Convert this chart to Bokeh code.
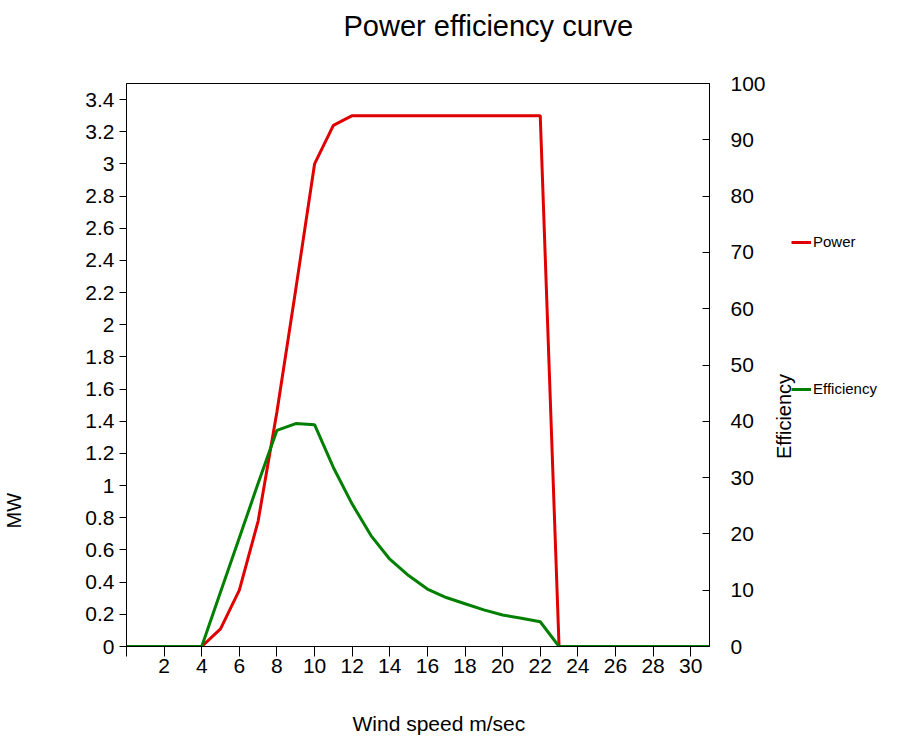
from bokeh.plotting import figure
from bokeh.layouts import row
from bokeh.models import (Range1d, LinearAxis, FixedTicker, Legend, LegendItem,
                          Title, Label)
from bokeh.embed import file_html
from bokeh.resources import INLINE

FONT = "Liberation Sans"

# Wind speed (m/sec), turbine power (MW) and efficiency (%)
wind_speed = list(range(0, 32))
power_mw = [0, 0, 0, 0, 0, 0.11, 0.35, 0.78, 1.46, 2.22, 3.0, 3.24,
            3.3, 3.3, 3.3, 3.3, 3.3, 3.3, 3.3, 3.3, 3.3, 3.3, 3.3,
            0, 0, 0, 0, 0, 0, 0, 0, 0]
efficiency = [0, 0, 0, 0, 0, 9.7, 19.3, 29.0, 38.4, 39.6, 39.4, 31.8,
              25.3, 19.7, 15.5, 12.6, 10.2, 8.7, 7.6, 6.5, 5.6, 5.0, 4.4,
              0, 0, 0, 0, 0, 0, 0, 0, 0]

# Tick positions and labels
x_ticks = list(range(0, 31, 2))
x_tick_labels = [""] + [str(v) for v in range(2, 31, 2)]
mw_ticks = [0, 0.2, 0.4, 0.6, 0.8, 1, 1.2, 1.4, 1.6, 1.8, 2, 2.2, 2.4,
            2.6, 2.8, 3, 3.2, 3.4]
mw_tick_labels = ["0", "0.2", "0.4", "0.6", "0.8", "1", "1.2", "1.4", "1.6",
                  "1.8", "2", "2.2", "2.4", "2.6", "2.8", "3", "3.2", "3.4"]
eff_ticks = list(range(0, 101, 10))

LINE_COLORS = {"Power": "#E00000", "Efficiency": "#007F00"}

# ---- main chart -----------------------------------------------------------
p = figure(width=770, height=750, output_backend="svg", toolbar_location=None,
           x_range=Range1d(0, 31), y_range=Range1d(0, 3.5),
           min_border_left=126, min_border_right=61,
           min_border_top=83, min_border_bottom=104)
p.extra_y_ranges = {"eff": Range1d(0, 100)}

p.xgrid.visible = False
p.ygrid.visible = False
p.outline_line_color = "black"
p.outline_line_width = 1
p.background_fill_color = "white"
p.border_fill_color = "white"


def style_axis(ax):
    ax.axis_line_color = "black"
    ax.major_tick_line_color = "black"
    ax.minor_tick_line_color = None
    ax.major_label_text_font = FONT
    ax.major_label_text_font_size = "21px"
    ax.major_label_text_color = "black"


xa = p.xaxis[0]
style_axis(xa)
xa.ticker = FixedTicker(ticks=x_ticks)
xa.major_label_overrides = {t: s for t, s in zip(x_ticks, x_tick_labels)}
xa.major_tick_out = 10
xa.major_tick_in = 0
xa.major_label_standoff = 2

ya = p.yaxis[0]
style_axis(ya)
ya.ticker = FixedTicker(ticks=mw_ticks)
ya.major_label_overrides = {t: s for t, s in zip(mw_ticks, mw_tick_labels)}
ya.major_tick_out = 7
ya.major_tick_in = 0
ya.major_label_standoff = 5

ra = LinearAxis(y_range_name="eff")
style_axis(ra)
ra.ticker = FixedTicker(ticks=eff_ticks)
ra.major_tick_out = 0
ra.major_tick_in = 7
ra.major_label_standoff = 21
p.add_layout(ra, "right")

p.line(wind_speed, power_mw, line_color=LINE_COLORS["Power"], line_width=3)
p.line(wind_speed, efficiency, line_color=LINE_COLORS["Efficiency"],
       line_width=3, y_range_name="eff")


def gap(size):
    # empty title used only to push the next title outward
    return Title(text=" ", text_font_size="1px", standoff=size)


def heading(text, size, align, offset, standoff):
    return Title(text=text, align=align, offset=offset, vertical_align="middle",
                 text_font=FONT, text_font_size=size, text_font_style="normal",
                 text_color="black", standoff=standoff)


# Chart title
p.add_layout(gap(30), "above")
p.add_layout(heading("Power efficiency curve", "29px", "left", 217, 16), "above")

# Horizontal axis title
p.add_layout(gap(29), "below")
p.add_layout(heading("Wind speed m/sec", "21px", "left", 226, 6), "below")

# Left axis title
p.add_layout(gap(54), "left")
p.add_layout(heading("MW", "20px", "left", 118, 0), "left")

# ---- side strip: right axis title and legend ------------------------------
# Its frame lines up with the main frame; the series are drawn here only to
# provide legend keys, so the y range keeps them out of view.
q = figure(width=130, height=750, output_backend="svg", toolbar_location=None,
           x_range=Range1d(0, 31), y_range=Range1d(200, 300),
           x_axis_location=None, y_axis_location=None, min_border=0)
q.xgrid.visible = False
q.ygrid.visible = False
q.outline_line_color = None
q.background_fill_color = "white"
q.border_fill_color = "white"

key_power = q.line(wind_speed, power_mw, line_color=LINE_COLORS["Power"],
                   line_width=3)
key_eff = q.line(wind_speed, efficiency, line_color=LINE_COLORS["Efficiency"],
                 line_width=3)

legend = Legend(items=[LegendItem(label="Power", renderers=[key_power]),
                       LegendItem(label="Efficiency", renderers=[key_eff])],
                location=(21, 249), orientation="vertical",
                padding=0, margin=0, spacing=130,
                glyph_width=20, glyph_height=16, label_standoff=2,
                label_text_font=FONT, label_text_font_size="15px",
                label_text_color="black", label_height=16,
                border_line_alpha=0, background_fill_alpha=0)
q.add_layout(legend)

q.add_layout(Label(x=13, y=230, x_units="screen", y_units="screen",
                   text="Efficiency", angle=90, angle_units="deg",
                   text_align="center", text_baseline="middle",
                   text_font=FONT, text_font_size="20px", text_color="black"))

page = row(p, q)
open("out.html", "w").write(file_html(page, INLINE))
